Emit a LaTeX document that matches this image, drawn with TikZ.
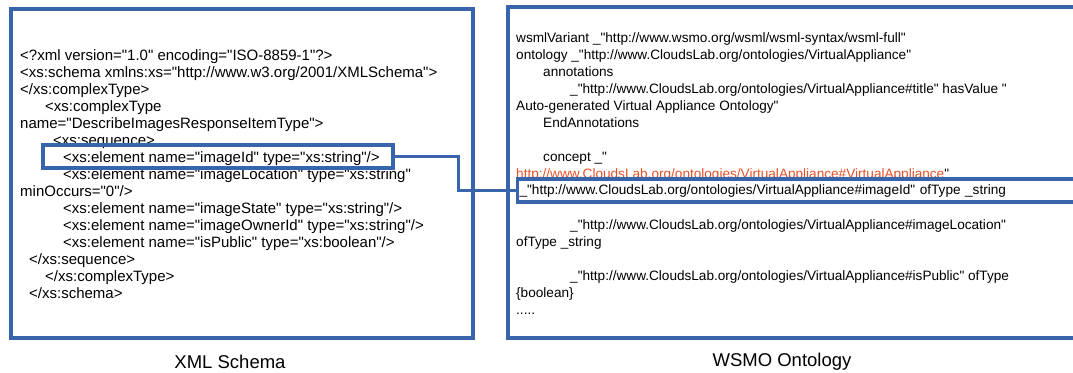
\documentclass[tikz,border=0pt]{standalone}
\usepackage{fontspec}
\defaultfontfeatures[\rmfamily]{}
\setmainfont{Liberation Sans}
\usepackage{tikz}
\definecolor{boxblue}{RGB}{56,100,172}
\definecolor{linkred}{RGB}{230,80,38}

\begin{document}
\begin{tikzpicture}[x=1pt,y=-1pt]
% Styles
\tikzstyle{code text}=[anchor=north west,inner sep=0pt,align=left,font=\fontsize{15}{17}\selectfont]
\tikzstyle{wsml text}=[code text,font=\fontsize{13.6}{17}\selectfont]
\tikzstyle{outer box}=[draw=boxblue,line width=3.2pt]
\tikzstyle{mark box}=[draw=boxblue,line width=3.2pt,inner sep=0pt,minimum height=23pt]
\tikzstyle{caption text}=[font=\fontsize{18.5}{22}\selectfont]

\useasboundingbox (0,0) rectangle (1073,372);
\clip (0,0) rectangle (1073,372);

% the two panels
\draw[outer box] (11,9) rectangle (473,338);
\draw[outer box] (508,7) rectangle (1090,338);

% xml schema
\node[code text] (schema) at (20,49.5) {%
<?xml version="1.0" encoding="ISO-8859-1"?>\\
<xs:schema xmlns:xs="http://www.w3.org/2001/XMLSchema">\\
</xs:complexType>\\
\hspace*{25pt}<xs:complexType\\
name="DescribeImagesResponseItemType">\\
\hspace*{33pt}<xs:sequence>\\
\hspace*{43pt}<xs:element name="imageId" type="xs:string"/>\\
\hspace*{43pt}<xs:element name="imageLocation" type="xs:string"\\
minOccurs="0"/>\\
\hspace*{43pt}<xs:element name="imageState" type="xs:string"/>\\
\hspace*{43pt}<xs:element name="imageOwnerId" type="xs:string"/>\\
\hspace*{43pt}<xs:element name="isPublic" type="xs:boolean"/>\\
\hspace*{9pt}</xs:sequence>\\
\hspace*{25pt}</xs:complexType>\\
\hspace*{9pt}</xs:schema>};

% wsmo ontology
\node[wsml text] (wsml) at (516,32.5) {%
wsmlVariant \_"http://www.wsmo.org/wsml/wsml-syntax/wsml-full"\\
ontology \_"http://www.CloudsLab.org/ontologies/VirtualAppliance"\\
\hspace*{27pt}annotations\\
\hspace*{54pt}\_"http://www.CloudsLab.org/ontologies/VirtualAppliance\#title" hasValue "\\
Auto-generated Virtual Appliance Ontology"\\
\hspace*{27pt}EndAnnotations\\[17pt]
\hspace*{27pt}concept \_"\\
\textcolor{linkred}{\underline{http://www.CloudsLab.org/ontologies/VirtualAppliance\#VirtualAppliance}}"};

\node[wsml text] (wsmlrest) at (516,219.5) {%
\hspace*{54pt}\_"http://www.CloudsLab.org/ontologies/VirtualAppliance\#imageLocation"\\
ofType \_string\\[17pt]
\hspace*{54pt}\_"http://www.CloudsLab.org/ontologies/VirtualAppliance\#isPublic" ofType\\
\{boolean\}\\
.....};

% matching elements
\node[mark box,minimum width=350pt] (idL) at (218,156.5) {};
\node[mark box,fill=white,anchor=west,text width=570pt,inner xsep=2pt,align=left,
  font=\fontsize{13.6}{17}\selectfont] (idR) at (516,190.5)
  {\_"http://www.CloudsLab.org/ontologies/VirtualAppliance\#imageId" ofType \_string};
\draw[draw=boxblue,line width=3.2pt] (idL.east) -- ++(64,0) |- (idR.west);

% captions
\node[caption text] (xsdcap) at (230,362) {XML Schema};
\node[caption text] (wsmocap) at (782,362) {WSMO Ontology};

\end{tikzpicture}
\end{document}
